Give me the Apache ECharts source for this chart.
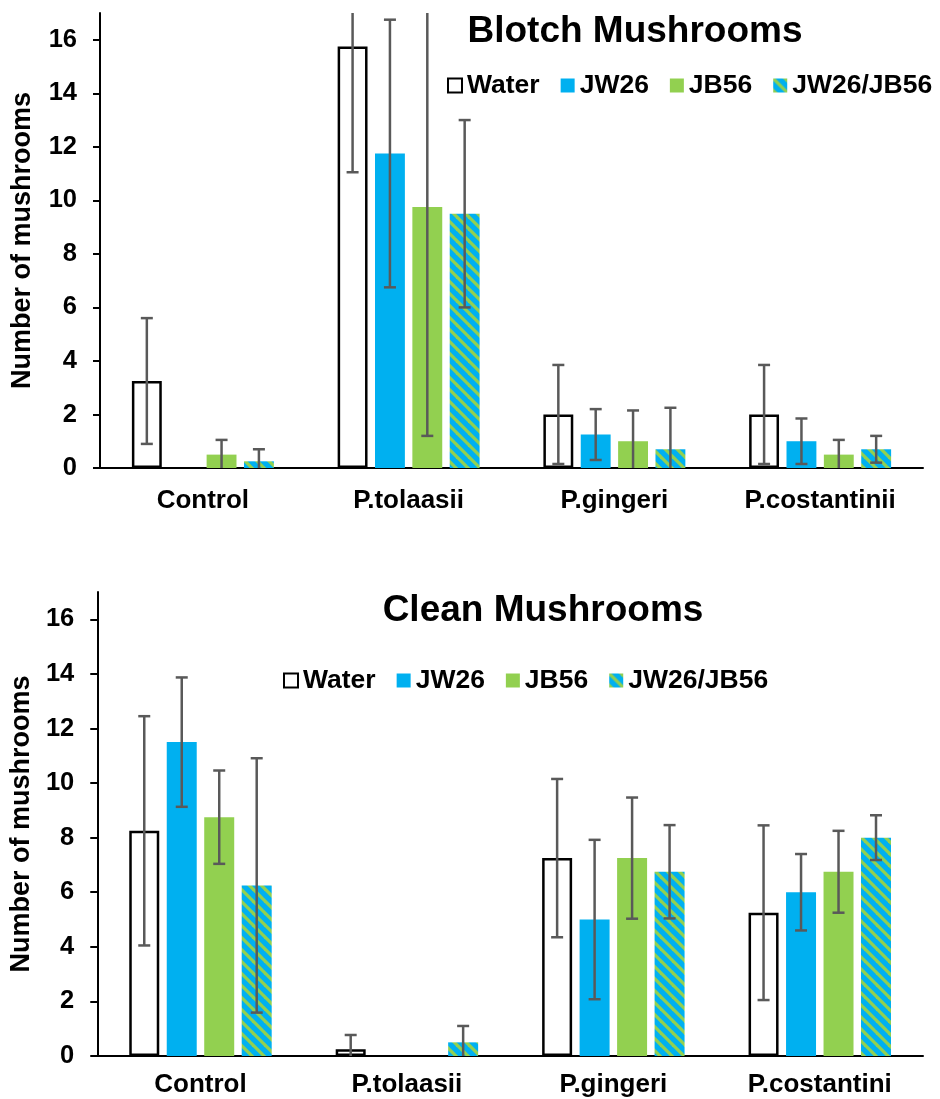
<!DOCTYPE html>
<html>
<head>
<meta charset="utf-8">
<script src="https://cdn.jsdelivr.net/npm/echarts@6/dist/echarts.min.js"></script>
<style>
  html, body { margin: 0; padding: 0; background: #fff; }
  #main { width: 940px; height: 1099px; }
</style>
</head>
<body>
<div id="main"></div>
<script>
// categories
const blotchCats = ['Control', 'P.tolaasii', 'P.gingeri', 'P.costantinii'];
const cleanCats = ['Control', 'P.tolaasii', 'P.gingeri', 'P.costantini'];
const seriesNames = ['Water', 'JW26', 'JB56', 'JW26/JB56'];
const yTicks = [0, 2, 4, 6, 8, 10, 12, 14, 16];

// Blotch mushrooms: means and error (+/-)
const blotchWater = [3.25, 15.75, 2.0, 2.0];
const blotchWaterErr = [2.35, 4.7, 1.85, 1.85];
const blotchJW26 = [0, 11.75, 1.25, 1.0];
const blotchJW26Err = [0, 5.0, 0.95, 0.85];
const blotchJB56 = [0.5, 9.75, 1.0, 0.5];
const blotchJB56Err = [0.55, 8.55, 1.15, 0.55];
const blotchMix = [0.25, 9.5, 0.7, 0.7];
const blotchMixErr = [0.45, 3.5, 1.55, 0.5];

// Clean mushrooms
const cleanWater = [8.25, 0.25, 7.25, 5.25];
const cleanWaterErr = [4.2, 0.52, 2.9, 3.2];
const cleanJW26 = [11.5, 0, 5.0, 6.0];
const cleanJW26Err = [2.37, 0, 2.92, 1.4];
const cleanJB56 = [8.75, 0, 7.25, 6.75];
const cleanJB56Err = [1.71, 0, 2.22, 1.5];
const cleanMix = [6.25, 0.5, 6.75, 8.0];
const cleanMixErr = [4.66, 0.6, 1.71, 0.82];

const BLUE = '#00B0F0';
const GREEN = '#92D050';
const ERR = '#595959';
const FONT = '"Liberation Sans", Arial, sans-serif';
const CAT_GAP = 0.31;
const BAR_GAP = 0.25;

// striped fill for the combined treatment
function makeStripes() {
  const s = 12;
  const c = document.createElement('canvas');
  c.width = s; c.height = s;
  const ctx = c.getContext('2d');
  ctx.fillStyle = BLUE;
  ctx.fillRect(0, 0, s, s);
  ctx.strokeStyle = GREEN;
  ctx.lineWidth = 3.2;
  [-s, 0, s].forEach(k => {
    ctx.beginPath();
    ctx.moveTo(k - 2, -2);
    ctx.lineTo(k + s + 2, s + 2);
    ctx.stroke();
  });
  return c;
}
const stripes = { image: makeStripes(), repeat: 'repeat' };

const barStyles = [
  { color: '#ffffff', borderColor: '#000', borderWidth: 2.5 },
  { color: BLUE },
  { color: GREEN },
  { color: stripes }
];

// error bar drawn at the centre of bar number idx of n
function errRender(idx, n) {
  return function (params, api) {
    const cat = api.value(0);
    const val = api.value(1);
    const err = api.value(2);
    if (!err) return;
    const band = api.size([1, 0])[0];
    const usable = band * (1 - CAT_GAP);
    const bw = usable / (n + (n - 1) * BAR_GAP);
    const off = -usable / 2 + bw / 2 + idx * bw * (1 + BAR_GAP);
    const c = api.coord([cat, val]);
    const hi = api.coord([cat, val + err]);
    const lo = api.coord([cat, val - err]);
    const rect = params.coordSys;
    const x = c[0] + off;
    const top = Math.max(hi[1], rect.y);
    const bot = Math.min(lo[1], rect.y + rect.height);
    const st = { stroke: ERR, lineWidth: 2.5 };
    const kids = [{ type: 'line', shape: { x1: x, y1: top, x2: x, y2: bot }, style: st }];
    if (hi[1] >= rect.y) kids.push({ type: 'line', shape: { x1: x - 6, y1: hi[1], x2: x + 6, y2: hi[1] }, style: st });
    if (lo[1] <= rect.y + rect.height) kids.push({ type: 'line', shape: { x1: x - 6, y1: lo[1], x2: x + 6, y2: lo[1] }, style: st });
    return { type: 'group', children: kids };
  };
}

function buildSeries(gridIdx, vals, errs) {
  const out = [];
  vals.forEach((v, i) => {
    out.push({
      name: seriesNames[i],
      type: 'bar',
      xAxisIndex: gridIdx,
      yAxisIndex: gridIdx,
      data: v,
      itemStyle: barStyles[i],
      barCategoryGap: (CAT_GAP * 100) + '%',
      barGap: (BAR_GAP * 100) + '%',
      silent: true
    });
  });
  vals.forEach((v, i) => {
    out.push({
      type: 'custom',
      xAxisIndex: gridIdx,
      yAxisIndex: gridIdx,
      renderItem: errRender(i, vals.length),
      data: v.map((y, k) => [k, y, errs[i][k]]),
      z: 10,
      silent: true
    });
  });
  return out;
}

function xAxis(gridIdx, cats, margin) {
  return {
    type: 'category',
    gridIndex: gridIdx,
    data: cats,
    axisLine: { lineStyle: { color: '#000', width: 2 } },
    axisTick: { show: false },
    axisLabel: { color: '#000', fontSize: 26, fontWeight: 'bold', fontFamily: FONT, margin: margin }
  };
}

function yAxis(gridIdx, gap) {
  return {
    type: 'value',
    gridIndex: gridIdx,
    min: 0,
    max: 17,
    interval: 2,
    name: 'Number of mushrooms',
    nameLocation: 'middle',
    nameGap: gap,
    nameTextStyle: { color: '#000', fontSize: 27, fontWeight: 'bold', fontFamily: FONT },
    axisLine: { show: true, lineStyle: { color: '#000', width: 2 } },
    axisTick: { show: true, length: 7, customValues: yTicks, lineStyle: { color: '#000', width: 2 } },
    axisLabel: { color: '#000', fontSize: 25.5, fontWeight: 'bold', fontFamily: FONT, margin: 23, customValues: yTicks },
    splitLine: { show: false }
  };
}

const chart = echarts.init(document.getElementById('main'), null, { renderer: 'canvas' });

const option = {
  backgroundColor: '#ffffff',
  animation: false,
  title: [
    { text: 'Blotch Mushrooms', left: 630, top: 8, textAlign: 'center',
      textStyle: { fontSize: 37, fontWeight: 'bold', color: '#000', fontFamily: FONT } },
    { text: 'Clean Mushrooms', left: 538, top: 587, textAlign: 'center',
      textStyle: { fontSize: 37, fontWeight: 'bold', color: '#000', fontFamily: FONT } }
  ],
  legend: [
    { data: seriesNames, left: 447, top: 72, padding: 0, itemGap: 21, itemWidth: 14, itemHeight: 14,
      icon: 'rect', textStyle: { fontSize: 26.5, fontWeight: 'bold', color: '#000', fontFamily: FONT } },
    { data: seriesNames, left: 283, top: 667, padding: 0, itemGap: 21, itemWidth: 14, itemHeight: 14,
      icon: 'rect', textStyle: { fontSize: 26.5, fontWeight: 'bold', color: '#000', fontFamily: FONT } }
  ],
  grid: [
    { left: 100, right: 17, top: 13, height: 455 },
    { left: 91, right: 17, top: 592, height: 464 }
  ],
  xAxis: [xAxis(0, blotchCats, 20), xAxis(1, cleanCats, 16)],
  yAxis: [yAxis(0, 64), yAxis(1, 62)],
  series: [
    ...buildSeries(0,
      [blotchWater, blotchJW26, blotchJB56, blotchMix],
      [blotchWaterErr, blotchJW26Err, blotchJB56Err, blotchMixErr]),
    ...buildSeries(1,
      [cleanWater, cleanJW26, cleanJB56, cleanMix],
      [cleanWaterErr, cleanJW26Err, cleanJB56Err, cleanMixErr])
  ]
};

chart.setOption(option);
</script>
</body>
</html>
